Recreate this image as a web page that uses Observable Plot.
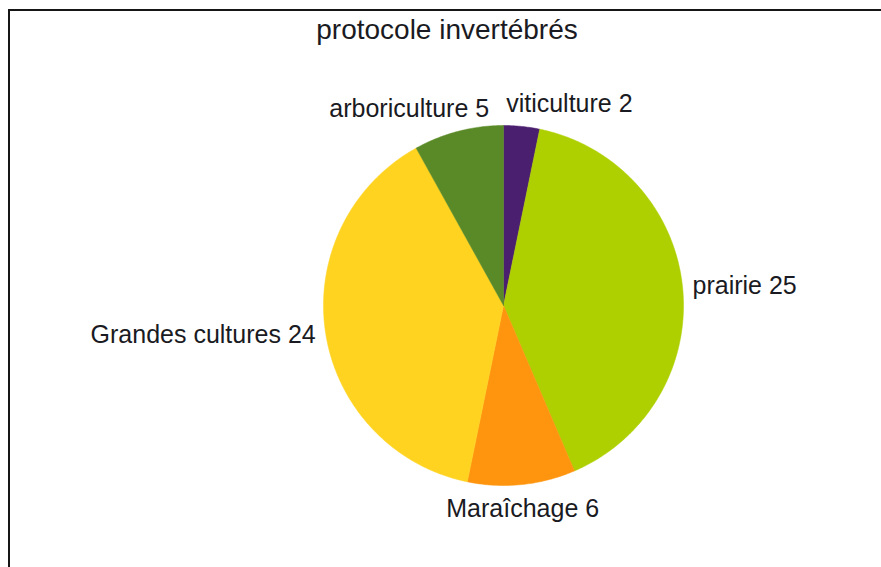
<!DOCTYPE html>
<html><head><meta charset="utf-8">
<script src="https://cdn.jsdelivr.net/npm/d3@7"></script>
<script src="https://cdn.jsdelivr.net/npm/@observablehq/plot@0.6"></script>
<style>
html,body{margin:0;padding:0;background:#fff;overflow:hidden}
#wrap{position:relative;width:881px;height:567px;font-family:"Liberation Sans",Arial,sans-serif;color:#1a1a22}
#frame{position:absolute;left:8px;top:9px;width:920px;height:620px;border:2px solid #161616;box-sizing:border-box}
#title{position:absolute;left:0;top:16px;width:894px;text-align:center;font-size:28px;line-height:27px;white-space:nowrap}
#chart{position:absolute;left:0;top:0}
</style>
</head><body>
<div id="wrap"><div id="frame"></div><div id="title"></div><div id="chart"></div></div>
<script>
// ---- data ----
const titleText = "protocole invertébrés";
const categories = ["viticulture", "prairie", "Maraîchage", "Grandes cultures", "arboriculture"];
const counts = [2, 25, 6, 24, 5];
const colors = ["#4b1f6f", "#aecf00", "#ff950e", "#ffd320", "#5a8a27"];

// ---- layout ----
const W = 881, H = 567, cx = 503, cy = 305, R = 180;
const labelRx = 190 / R, labelRy = 195 / R, gap = 17, fontSize = 25;
const font = `${fontSize}px "Liberation Sans", Arial, sans-serif`;

document.getElementById("title").textContent = titleText;

const rows = categories.map((c, i) => ({cat: c, count: counts[i]}));
const arcs = d3.pie().sort(null).value(d => d.count)(rows);

// polygon points for each slice (unit circle, angle clockwise from top)
const pts = [];
for (const a of arcs) {
  pts.push({cat: a.data.cat, x: 0, y: 0});
  const n = Math.max(2, Math.ceil((a.endAngle - a.startAngle) / (Math.PI / 360)));
  for (let k = 0; k <= n; k++) {
    const t = a.startAngle + (a.endAngle - a.startAngle) * k / n;
    pts.push({cat: a.data.cat, x: Math.sin(t), y: Math.cos(t)});
  }
  pts.push({cat: a.data.cat, x: 0, y: 0});
}

// labels
const ctx = document.createElement("canvas").getContext("2d");
ctx.font = font;
const labels = arcs.map(a => {
  const m = (a.startAngle + a.endAngle) / 2;
  const s = Math.sin(m), c = Math.cos(m);
  const text = `${a.data.cat} ${a.data.count}`;
  const w = ctx.measureText(text).width / R;
  const ax = labelRx * s, ay = labelRy * c;
  const h = s > 0.3 ? "start" : s < -0.3 ? "end" : "middle";
  const v = c > 0.3 ? "bottom" : c < -0.3 ? "top" : "middle";
  const left = h === "start" ? ax : h === "end" ? ax - w : ax - w / 2;
  return {text, w, left, y: ay, v};
});
// push apart overlapping labels in the same vertical band
for (const band of ["top", "middle", "bottom"]) {
  const g = labels.filter(l => l.v === band).sort((a, b) => a.left - b.left);
  for (let i = 0; i + 1 < g.length; i++) {
    const a = g[i], b = g[i + 1];
    const over = a.left + a.w + gap / R - b.left;
    if (over > 0) { a.left -= over / 2; b.left += over / 2; }
  }
}
labels.forEach(l => l.x = l.left + l.w / 2);

const plot = Plot.plot({
  width: W, height: H,
  margin: 0,
  x: {domain: [-cx / R, (W - cx) / R], axis: null},
  y: {domain: [-(H - cy) / R, cy / R], axis: null},
  color: {domain: categories, range: colors},
  style: {background: "transparent", overflow: "visible"},
  marks: [
    Plot.line(pts, {x: "x", y: "y", z: "cat", fill: "cat", stroke: "cat", strokeWidth: 0.5, curve: "linear"}),
    ...["top", "middle", "bottom"].map(v => Plot.text(labels.filter(l => l.v === v), {
      x: "x", y: "y", text: "text", textAnchor: "middle", lineAnchor: v,
      fontSize, fontFamily: '"Liberation Sans", Arial, sans-serif', fill: "#1a1a22"
    }))
  ]
});
document.getElementById("chart").appendChild(plot);
</script>
</body></html>
